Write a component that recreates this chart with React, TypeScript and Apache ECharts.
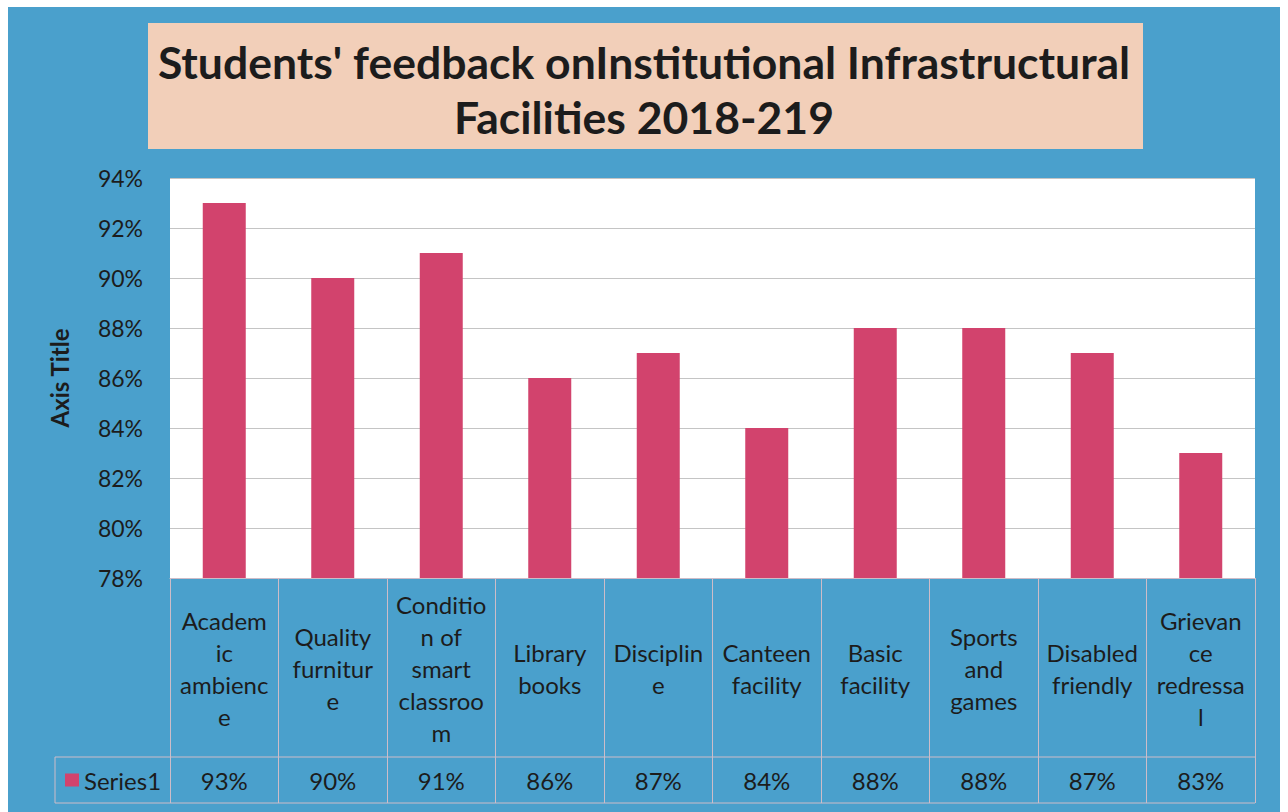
import React, { useEffect, useRef } from "react";
import * as echarts from "echarts";

const categoryLabels = [
  "Academ\nic\nambienc\ne",
  "Quality\nfurnitur\ne",
  "Conditio\nn of\nsmart\nclassroo\nm",
  "Library\nbooks",
  "Disciplin\ne",
  "Canteen\nfacility",
  "Basic\nfacility",
  "Sports\nand\ngames",
  "Disabled\nfriendly",
  "Grievan\nce\nredressa\nl",
];
const seriesName = "Series1";
const values = [93, 90, 91, 86, 87, 84, 88, 88, 87, 83];
const yMin = 78;
const yMax = 94;
const yStep = 2;
const titleText = "Students' feedback onInstitutional Infrastructural\nFacilities 2018-219";
const axisTitle = "Axis Title";

const FONT = "Lato, 'Open Sans', sans-serif";
const BLUE = "#4aa0cc";
const PEACH = "#f2cfb9";
const BAR = "#d2436d";
const LINE = "#cdbcc8";
const TXT = "#1c1c1c";

export default function App() {
  const ref = useRef<HTMLDivElement>(null);
  useEffect(() => {
    if (!ref.current) return;
    const chart = echarts.init(ref.current, undefined, { renderer: "svg" });
    chart.setOption({
      animation: false,
      backgroundColor: "#ffffff",
      textStyle: { fontFamily: FONT },
      graphic: [
        { type: "rect", z: -10, shape: { x: 8, y: 7, width: 1272, height: 810 }, style: { fill: BLUE } },
        { type: "rect", z: -9, shape: { x: 148, y: 23, width: 995, height: 126 }, style: { fill: PEACH } },
        { type: "line", shape: { x1: 55, y1: 757, x2: 1255, y2: 757 }, style: { stroke: LINE, lineWidth: 1 } },
        { type: "line", shape: { x1: 55, y1: 803, x2: 1255, y2: 803 }, style: { stroke: LINE, lineWidth: 1 } },
        { type: "line", shape: { x1: 55, y1: 757, x2: 55, y2: 803 }, style: { stroke: LINE, lineWidth: 1 } },
      ],
      title: {
        text: titleText,
        left: "center",
        top: 34,
        padding: 0,
        textStyle: { fontFamily: FONT, fontSize: 44.5, fontWeight: "bold", color: TXT, lineHeight: 55 },
      },
      legend: {
        left: 65,
        top: 768,
        padding: 0,
        icon: "rect",
        itemWidth: 14,
        itemHeight: 13,
        itemGap: 8,
        textStyle: { fontFamily: FONT, fontSize: 24, color: TXT },
        data: [seriesName],
      },
      grid: { left: 170, right: 33, top: 178, bottom: 234, show: true, backgroundColor: "#ffffff", borderWidth: 0 },
      xAxis: [
        {
          type: "category",
          data: categoryLabels,
          axisLine: { show: true, lineStyle: { color: LINE } },
          axisTick: { show: true, interval: 0, length: 225, lineStyle: { color: LINE } },
          axisLabel: {
            interval: 0,
            margin: 90,
            verticalAlign: "middle",
            fontFamily: FONT,
            fontSize: 24,
            lineHeight: 32,
            color: TXT,
          },
        },
        {
          type: "category",
          data: categoryLabels,
          position: "bottom",
          axisLine: { show: false },
          axisTick: { show: false },
          axisLabel: {
            interval: 0,
            margin: 202,
            verticalAlign: "middle",
            fontFamily: FONT,
            fontSize: 24,
            color: TXT,
            formatter: (_v: string, i: number) => `${values[i]}%`,
          },
        },
      ],
      yAxis: {
        type: "value",
        min: yMin,
        max: yMax,
        interval: yStep,
        name: axisTitle,
        nameLocation: "middle",
        nameRotate: 90,
        nameGap: 99,
        nameTextStyle: { fontFamily: FONT, fontSize: 24, fontWeight: "bold", color: TXT },
        axisLine: { show: false },
        axisTick: { show: false },
        axisLabel: { margin: 27, fontFamily: FONT, fontSize: 23, color: TXT, formatter: (v: number) => `${v}%` },
        splitLine: { show: true, lineStyle: { color: "#c4c4c4", width: 1 } },
      },
      series: [
        {
          name: seriesName,
          type: "bar",
          data: values,
          barWidth: 43,
          itemStyle: { color: BAR },
        },
      ],
    });
    return () => chart.dispose();
  }, []);
  return (
    <div
      ref={ref}
      style={{ position: "absolute", left: 0, top: 0, width: 1288, height: 812 }}
    />
  );
}
